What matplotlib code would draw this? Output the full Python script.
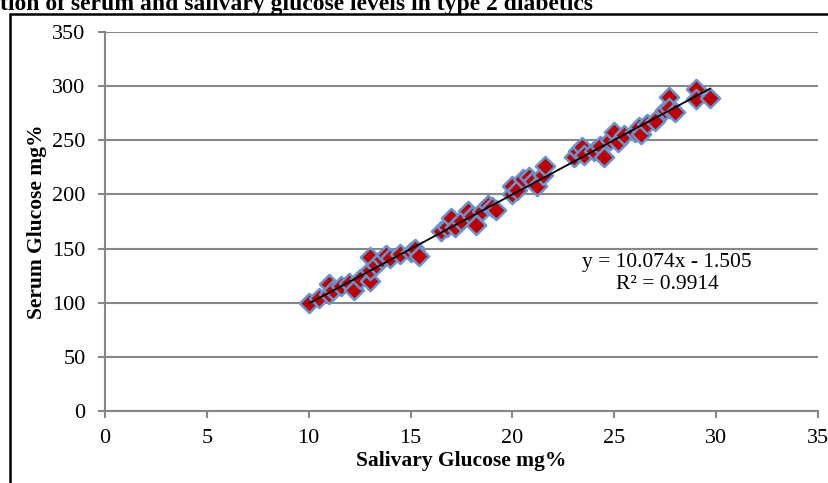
import matplotlib.pyplot as plt
from matplotlib.patches import Rectangle

# Salivary vs serum glucose
salivary = [10.0, 10.5, 11.0, 11.0, 11.2, 11.6, 12.0, 12.2, 12.5, 13.0, 13.0, 13.0,
            13.3, 13.6, 13.8, 14.0, 14.5, 15.0, 15.2, 15.4, 16.5, 16.8, 17.0, 17.2,
            17.5, 17.8, 18.0, 18.2, 18.5, 18.8, 19.0, 19.2, 20.0, 20.0, 20.2, 20.5,
            20.8, 21.0, 21.2, 21.5, 21.6, 23.0, 23.2, 23.4, 23.5, 24.0, 24.3, 24.5,
            24.8, 25.0, 25.2, 25.5, 26.0, 26.2, 26.3, 26.6, 27.0, 27.5, 27.7, 27.7,
            28.0, 29.0, 29.0, 29.7]
serum = [100, 104, 108, 117, 112, 115, 118, 112, 122, 120, 130, 142,
         135, 140, 144, 141, 145, 147, 150, 143, 166, 170, 178, 170,
         175, 185, 180, 172, 185, 190, 188, 186, 200, 208, 204, 214,
         216, 212, 208, 218, 226, 235, 240, 244, 236, 240, 245, 235,
         250, 258, 248, 255, 258, 262, 256, 265, 268, 278, 290, 280,
         276, 297, 288, 289]

slope = 10.074
intercept = -1.505
r2 = 0.9914

xticks = [0, 5, 10, 15, 20, 25, 30, 35]
yticks = [0, 50, 100, 150, 200, 250, 300, 350]

plt.rcParams['font.family'] = ['Liberation Serif', 'DejaVu Serif']

fig = plt.figure(figsize=(8.29, 4.83), dpi=100)
ax = fig.add_axes([105/829, 1 - 411/483, (818 - 105)/829, (411 - 32)/483])

grey = '#878787'
ax.scatter(salivary, serum, marker='D', s=95, facecolor='#C00000',
           edgecolor='#6495D0', linewidth=1.8, zorder=3)

x0, x1 = min(salivary), max(salivary)
ax.plot([x0, x1], [slope*x0 + intercept, slope*x1 + intercept], color='black', lw=1.3, zorder=4)

ax.text(27.6, 137.5, 'y = %.3fx - %.3f' % (slope, abs(intercept)), ha='center', va='center', fontsize=15.5)
ax.text(27.6, 117, 'R² = %.4f' % r2, ha='center', va='center', fontsize=15.5)

ax.set_xlim(0, 35)
ax.set_ylim(0, 350)
ax.set_xticks(xticks)
ax.set_yticks(yticks)
ax.grid(axis='y', color=grey, lw=1.5)
ax.set_axisbelow(True)
for s in ['top', 'right']:
    ax.spines[s].set_visible(False)
for s in ['left', 'bottom']:
    ax.spines[s].set_color(grey)
    ax.spines[s].set_linewidth(1.5)
ax.tick_params(direction='out', length=5, width=1.5, color=grey, labelsize=16)
ax.tick_params(axis='x', pad=8)
ax.tick_params(axis='y', pad=9)

ax.set_xlabel('Salivary Glucose mg%', fontsize=15.5, fontweight='bold', labelpad=2)
ax.set_ylabel('Serum Glucose mg%', fontsize=15.5, fontweight='bold', labelpad=4)

# outer frame, partly outside the picture
fig.patches.append(Rectangle((10/829, -0.1), 1.2, 1 - 14/483 + 0.1, transform=fig.transFigure,
                             fill=False, edgecolor='black', lw=1.8))

fig.text(0, 1 - 10/483, 'tion of serum and salivary glucose levels in type 2 diabetics',
         ha='left', va='baseline', fontsize=17, fontweight='bold')

fig.savefig('out.png', dpi=100)
